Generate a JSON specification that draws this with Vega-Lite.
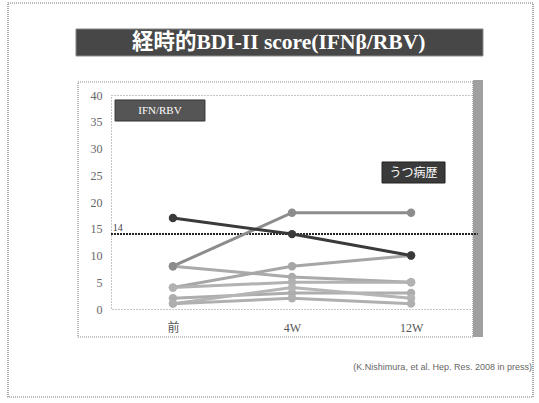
{
  "$schema": "https://vega.github.io/schema/vega-lite/v6.json",
  "width": 362,
  "height": 214,
  "autosize": {"type": "none"},
  "padding": {"left": 111, "top": 95, "right": 66, "bottom": 94},
  "background": "white",
  "config": {
    "font": "Liberation Serif, Noto Sans CJK JP",
    "view": {"stroke": "#8a8a8a", "strokeDash": [1, 2]}
  },
  "layer": [
    {
      "data": {"values": [{}]},
      "layer": [
        {
          "mark": {"type": "rect", "fill": null, "stroke": "#707070", "strokeWidth": 1.2, "strokeDash": [1, 1]},
          "encoding": {
            "x": {"datum": -1.385, "type": "quantitative", "scale": {"domain": [-0.52, 2.52], "nice": false, "zero": false}, "axis": null},
            "x2": {"datum": 3.024},
            "y": {"datum": 57.2, "type": "quantitative", "scale": {"domain": [0, 40], "nice": false, "zero": false}, "axis": null},
            "y2": {"datum": -16.45}
          }
        },
        {
          "mark": {"type": "rect", "fill": "#474747", "stroke": "#8a8a8a", "strokeWidth": 1},
          "encoding": {
            "x": {"datum": -0.814, "type": "quantitative", "scale": {"domain": [-0.52, 2.52], "nice": false, "zero": false}, "axis": null},
            "x2": {"datum": 2.604},
            "y": {"datum": 52.34, "type": "quantitative", "scale": {"domain": [0, 40], "nice": false, "zero": false}, "axis": null},
            "y2": {"datum": 47.29}
          }
        },
        {
          "mark": {"type": "text", "color": "white", "fontSize": 21.5, "fontWeight": "bold", "align": "left", "baseline": "middle", "font": "Liberation Serif, Noto Sans CJK JP"},
          "encoding": {
            "x": {"datum": -0.344, "type": "quantitative", "scale": {"domain": [-0.52, 2.52], "nice": false, "zero": false}, "axis": null},
            "y": {"datum": 49.72, "type": "quantitative", "scale": {"domain": [0, 40], "nice": false, "zero": false}, "axis": null},
            "text": {"value": "経時的BDI-II score(IFNβ/RBV)"}
          }
        },
        {
          "mark": {"type": "rect", "fill": null, "stroke": "#8a8a8a", "strokeWidth": 1.2, "strokeDash": [1, 1]},
          "encoding": {
            "x": {"datum": -0.797, "type": "quantitative", "scale": {"domain": [-0.52, 2.52], "nice": false, "zero": false}, "axis": null},
            "x2": {"datum": 2.52},
            "y": {"datum": 42.43, "type": "quantitative", "scale": {"domain": [0, 40], "nice": false, "zero": false}, "axis": null},
            "y2": {"datum": -5.23}
          }
        },
        {
          "mark": {"type": "rect", "fill": "#a0a0a0"},
          "encoding": {
            "x": {"datum": 2.52, "type": "quantitative", "scale": {"domain": [-0.52, 2.52], "nice": false, "zero": false}, "axis": null},
            "x2": {"datum": 2.604},
            "y": {"datum": 42.8, "type": "quantitative", "scale": {"domain": [0, 40], "nice": false, "zero": false}, "axis": null},
            "y2": {"datum": -5.23}
          }
        },
        {
          "mark": {"type": "rect", "fill": "#555555", "stroke": "#333333", "strokeWidth": 1},
          "encoding": {
            "x": {"datum": -0.486, "type": "quantitative", "scale": {"domain": [-0.52, 2.52], "nice": false, "zero": false}, "axis": null},
            "x2": {"datum": 0.269},
            "y": {"datum": 39.07, "type": "quantitative", "scale": {"domain": [0, 40], "nice": false, "zero": false}, "axis": null},
            "y2": {"datum": 35.14}
          }
        },
        {
          "mark": {"type": "text", "color": "white", "fontSize": 11, "align": "center", "baseline": "middle"},
          "encoding": {
            "x": {"datum": -0.109, "type": "quantitative", "scale": {"domain": [-0.52, 2.52], "nice": false, "zero": false}, "axis": null},
            "y": {"datum": 37.1, "type": "quantitative", "scale": {"domain": [0, 40], "nice": false, "zero": false}, "axis": null},
            "text": {"value": "IFN/RBV"}
          }
        },
        {
          "mark": {"type": "rect", "fill": "#3a3a3a", "stroke": "#222222", "strokeWidth": 1},
          "encoding": {
            "x": {"datum": 1.756, "type": "quantitative", "scale": {"domain": [-0.52, 2.52], "nice": false, "zero": false}, "axis": null},
            "x2": {"datum": 2.285},
            "y": {"datum": 27.48, "type": "quantitative", "scale": {"domain": [0, 40], "nice": false, "zero": false}, "axis": null},
            "y2": {"datum": 23.55}
          }
        },
        {
          "mark": {"type": "text", "color": "white", "fontSize": 12, "align": "center", "baseline": "middle", "font": "Noto Sans CJK JP"},
          "encoding": {
            "x": {"datum": 2.02, "type": "quantitative", "scale": {"domain": [-0.52, 2.52], "nice": false, "zero": false}, "axis": null},
            "y": {"datum": 25.5, "type": "quantitative", "scale": {"domain": [0, 40], "nice": false, "zero": false}, "axis": null},
            "text": {"value": "うつ病歴"}
          }
        },
        {
          "mark": {"type": "rule", "color": "#222222", "strokeWidth": 2, "strokeDash": [2, 1]},
          "encoding": {
            "x": {"datum": -0.52, "type": "quantitative", "scale": {"domain": [-0.52, 2.52], "nice": false, "zero": false}, "axis": null},
            "x2": {"datum": 2.56},
            "y": {"datum": 14, "type": "quantitative", "scale": {"domain": [0, 40], "nice": false, "zero": false}, "axis": null}
          }
        },
        {
          "mark": {"type": "text", "color": "#444444", "fontSize": 10, "align": "left", "baseline": "bottom", "dy": -1},
          "encoding": {
            "x": {"datum": -0.505, "type": "quantitative", "scale": {"domain": [-0.52, 2.52], "nice": false, "zero": false}, "axis": null},
            "y": {"datum": 14, "type": "quantitative", "scale": {"domain": [0, 40], "nice": false, "zero": false}, "axis": null},
            "text": {"value": "14"}
          }
        },
        {
          "mark": {"type": "text", "color": "#666666", "fontSize": 9, "align": "right", "baseline": "middle", "font": "Liberation Sans"},
          "encoding": {
            "x": {"datum": 3.015, "type": "quantitative", "scale": {"domain": [-0.52, 2.52], "nice": false, "zero": false}, "axis": null},
            "y": {"datum": -10.84, "type": "quantitative", "scale": {"domain": [0, 40], "nice": false, "zero": false}, "axis": null},
            "text": {"value": "(K.Nishimura, et al. Hep. Res. 2008 in press)"}
          }
        }
      ]
    },
    {
      "data": {
        "values": [
          {"patient": "C", "time": "前", "score": 8},
          {"patient": "C", "time": "4W", "score": 6},
          {"patient": "C", "time": "12W", "score": 5},
          {"patient": "D", "time": "前", "score": 4},
          {"patient": "D", "time": "4W", "score": 8},
          {"patient": "D", "time": "12W", "score": 10},
          {"patient": "E", "time": "前", "score": 4},
          {"patient": "E", "time": "4W", "score": 5},
          {"patient": "E", "time": "12W", "score": 5},
          {"patient": "F", "time": "前", "score": 2},
          {"patient": "F", "time": "4W", "score": 3},
          {"patient": "F", "time": "12W", "score": 3},
          {"patient": "G", "time": "前", "score": 1},
          {"patient": "G", "time": "4W", "score": 4},
          {"patient": "G", "time": "12W", "score": 2},
          {"patient": "H", "time": "前", "score": 1},
          {"patient": "H", "time": "4W", "score": 2},
          {"patient": "H", "time": "12W", "score": 1},
          {"patient": "B", "time": "前", "score": 8},
          {"patient": "B", "time": "4W", "score": 18},
          {"patient": "B", "time": "12W", "score": 18},
          {"patient": "A", "time": "前", "score": 17},
          {"patient": "A", "time": "4W", "score": 14},
          {"patient": "A", "time": "12W", "score": 10}
        ]
      },
      "mark": {"type": "line", "strokeWidth": 3, "point": {"filled": true, "size": 70}},
      "encoding": {
        "x": {
          "field": "time",
          "type": "ordinal",
          "sort": ["前", "4W", "12W"],
          "scale": {"type": "point", "padding": 0.52},
          "axis": {"title": null, "domain": false, "ticks": false, "labelAngle": 0, "labelPadding": 13, "labelFontSize": 12, "labelColor": "#555555", "labelFont": "Liberation Serif, Noto Sans CJK JP"}
        },
        "y": {
          "field": "score",
          "type": "quantitative",
          "scale": {"domain": [0, 40], "nice": false, "zero": false},
          "axis": {"title": null, "values": [0, 5, 10, 15, 20, 25, 30, 35, 40], "domain": false, "ticks": false, "labelPadding": 9, "labelFontSize": 12, "labelColor": "#666666", "gridColor": "#8a8a8a", "gridDash": [1, 2], "gridWidth": 1}
        },
        "color": {
          "field": "patient",
          "type": "nominal",
          "scale": {"domain": ["C", "D", "E", "F", "G", "H", "B", "A"], "range": ["#aaaaaa", "#a6a6a6", "#b2b2b2", "#adadad", "#b5b5b5", "#b0b0b0", "#8c8c8c", "#3a3a3a"]},
          "legend": null
        },
        "order": {"field": "time", "sort": "ascending"}
      }
    }
  ],
  "resolve": {"scale": {"x": "independent", "y": "independent"}}
}
